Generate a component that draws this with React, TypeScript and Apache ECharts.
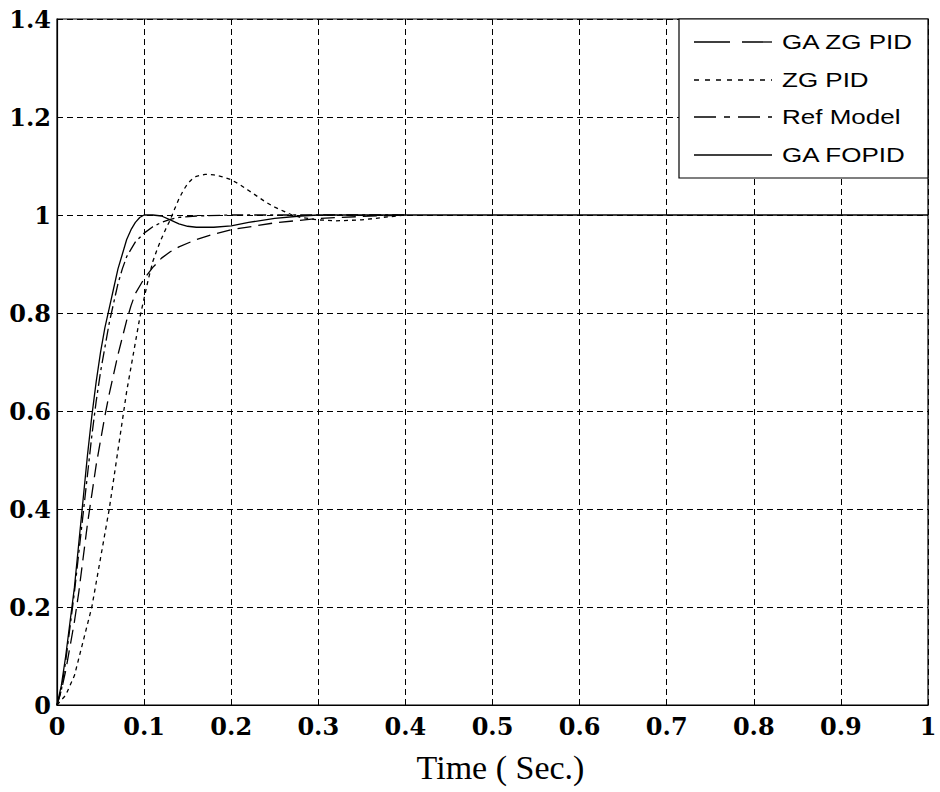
import React, { useEffect, useRef } from "react";
import * as echarts from "echarts";

// ---- Data ----
const xTickLabels = ["0", "0.1", "0.2", "0.3", "0.4", "0.5", "0.6", "0.7", "0.8", "0.9", "1"];
const yTickLabels = ["0", "0.2", "0.4", "0.6", "0.8", "1", "1.2", "1.4"];
const seriesNames = ["GA ZG PID", "ZG PID", "Ref Model", "GA FOPID"];
const axisTitle = "Time ( Sec.)";

const gaZgPidTime = [0, 0.005, 0.01, 0.015, 0.02, 0.025, 0.03, 0.035, 0.04, 0.045, 0.05, 0.055, 0.06, 0.065, 0.07, 0.075, 0.08, 0.085, 0.09, 0.1, 0.11, 0.12, 0.13, 0.14, 0.16, 0.18, 0.2, 0.25, 0.3, 0.35, 0.4];
const gaZgPidValue = [0, 0.03, 0.07, 0.12, 0.17, 0.23, 0.3, 0.37, 0.43, 0.49, 0.54, 0.59, 0.635, 0.675, 0.715, 0.75, 0.785, 0.815, 0.84, 0.87, 0.893, 0.912, 0.925, 0.935, 0.95, 0.961, 0.97, 0.984, 0.993, 0.997, 1.0];

const zgPidTime = [0, 0.01, 0.02, 0.03, 0.035, 0.04, 0.045, 0.05, 0.055, 0.06, 0.065, 0.07, 0.075, 0.08, 0.085, 0.09, 0.095, 0.1, 0.105, 0.11, 0.115, 0.12, 0.125, 0.13, 0.135, 0.14, 0.145, 0.15, 0.155, 0.16, 0.17, 0.18, 0.19, 0.2, 0.21, 0.22, 0.23, 0.24, 0.25, 0.26, 0.27, 0.28, 0.3, 0.32, 0.35, 0.38, 0.4];
const zgPidValue = [0, 0.02, 0.06, 0.13, 0.165, 0.2, 0.25, 0.3, 0.35, 0.4, 0.46, 0.52, 0.58, 0.64, 0.69, 0.74, 0.79, 0.83, 0.87, 0.905, 0.93, 0.952, 0.972, 0.99, 1.012, 1.033, 1.05, 1.064, 1.073, 1.079, 1.083, 1.082, 1.078, 1.072, 1.062, 1.05, 1.038, 1.026, 1.016, 1.008, 1.0, 0.995, 0.99, 0.988, 0.99, 0.996, 1.0];

const refModelTime = [0, 0.005, 0.01, 0.015, 0.02, 0.025, 0.03, 0.035, 0.04, 0.045, 0.05, 0.055, 0.06, 0.065, 0.07, 0.075, 0.08, 0.09, 0.1, 0.11, 0.12, 0.13, 0.14, 0.16, 0.2, 0.3, 0.4];
const refModelValue = [0, 0.03, 0.09, 0.16, 0.23, 0.31, 0.39, 0.47, 0.55, 0.62, 0.68, 0.73, 0.78, 0.82, 0.86, 0.89, 0.915, 0.945, 0.963, 0.976, 0.985, 0.991, 0.995, 0.998, 1.0, 1.0, 1.0];

const gaFopidTime = [0, 0.005, 0.01, 0.015, 0.02, 0.025, 0.03, 0.035, 0.04, 0.045, 0.05, 0.055, 0.06, 0.065, 0.07, 0.075, 0.08, 0.085, 0.09, 0.095, 0.1, 0.11, 0.12, 0.13, 0.14, 0.15, 0.16, 0.18, 0.2, 0.22, 0.25, 0.28, 0.3, 0.4, 1.0];
const gaFopidValue = [0, 0.04, 0.1, 0.17, 0.24, 0.33, 0.42, 0.51, 0.59, 0.66, 0.72, 0.77, 0.81, 0.85, 0.89, 0.92, 0.95, 0.97, 0.985, 0.995, 1.0, 1.0, 0.998, 0.99, 0.982, 0.977, 0.975, 0.975, 0.978, 0.985, 0.993, 0.998, 1.0, 1.0, 1.0];

const zip = (t: number[], v: number[]) => t.map((x, i) => [x, v[i]]);

export default function App() {
  const ref = useRef<HTMLDivElement>(null);

  useEffect(() => {
    if (!ref.current) return;
    const chart = echarts.init(ref.current, undefined, { renderer: "svg" });

    const plotDashes = [[14, 7], [4, 4], [12, 4, 3, 4], null];
    const legendDashes = [[36, 12], [5, 6], [22, 8, 6, 8], null];
    const dataSets = [
      zip(gaZgPidTime, gaZgPidValue),
      zip(zgPidTime, zgPidValue),
      zip(refModelTime, refModelValue),
      zip(gaFopidTime, gaFopidValue),
    ];

    const legendLeft = 679;
    const legendTop = 19;
    const legendRight = 928;
    const legendBottom = 178;
    const itemY = [42, 80, 117, 155];

    const legendGraphics: any[] = [
      {
        type: "rect",
        shape: { x: legendLeft, y: legendTop, width: legendRight - legendLeft, height: legendBottom - legendTop },
        style: { fill: "#fff", stroke: "#000", lineWidth: 1.2 },
        z: 100,
      },
    ];
    seriesNames.forEach((name, i) => {
      legendGraphics.push({
        type: "line",
        shape: { x1: 694, y1: itemY[i], x2: 772, y2: itemY[i] },
        style: { stroke: "#000", lineWidth: 1.3, lineDash: legendDashes[i] || undefined },
        z: 101,
      });
      legendGraphics.push({
        type: "text",
        x: 782,
        y: itemY[i],
        scaleX: 1.3,
        style: {
          text: name,
          fill: "#000",
          font: "20px 'Liberation Sans', Arial, sans-serif",
          textAlign: "left",
          textVerticalAlign: "middle",
        },
        z: 101,
      });
    });

    const labelFont = {
      fontFamily: "'DejaVu Serif', serif",
      fontWeight: "bold" as const,
      fontSize: 24,
      color: "#000",
    };

    chart.setOption({
      animation: false,
      backgroundColor: "#fff",
      grid: {
        left: 57,
        right: 12,
        top: 19,
        bottom: 87,
        show: true,
        borderColor: "#000",
        borderWidth: 1.2,
        backgroundColor: "transparent",
      },
      xAxis: {
        type: "value",
        min: 0,
        max: 1,
        interval: 0.1,
        name: axisTitle,
        nameLocation: "middle",
        nameGap: 45,
        nameTextStyle: { fontFamily: "'Liberation Serif', 'Times New Roman', serif", fontSize: 34, color: "#000", padding: [0, 0, 0, 16] },
        axisLine: { show: true, lineStyle: { color: "#000", width: 1.2 } },
        axisTick: { show: true, inside: true, length: 6, lineStyle: { color: "#000" } },
        axisLabel: {
          ...labelFont,
          margin: 9,
          formatter: (v: number) => xTickLabels[Math.round(v * 10)] ?? "",
        },
        splitLine: { show: true, lineStyle: { color: "#000", type: [6, 4], width: 1 } },
      },
      yAxis: {
        type: "value",
        min: 0,
        max: 1.4,
        interval: 0.2,
        axisLine: { show: true, lineStyle: { color: "#000", width: 1.2 } },
        axisTick: { show: true, inside: true, length: 6, lineStyle: { color: "#000" } },
        axisLabel: {
          ...labelFont,
          margin: 6,
          formatter: (v: number) => yTickLabels[Math.round(v * 5)] ?? "",
        },
        splitLine: { show: true, lineStyle: { color: "#000", type: [6, 4], width: 1 } },
      },
      series: seriesNames.map((name, i) => ({
        name,
        type: "line",
        data: dataSets[i],
        showSymbol: false,
        symbol: "none",
        smooth: false,
        lineStyle: {
          color: "#000",
          width: 1.3,
          type: plotDashes[i] || "solid",
        },
        z: 10 + i,
      })),
      graphic: legendGraphics,
    });

    return () => chart.dispose();
  }, []);

  return (
    <div
      ref={ref}
      style={{ position: "fixed", left: 0, top: 0, width: 940, height: 792, background: "#fff" }}
    />
  );
}
